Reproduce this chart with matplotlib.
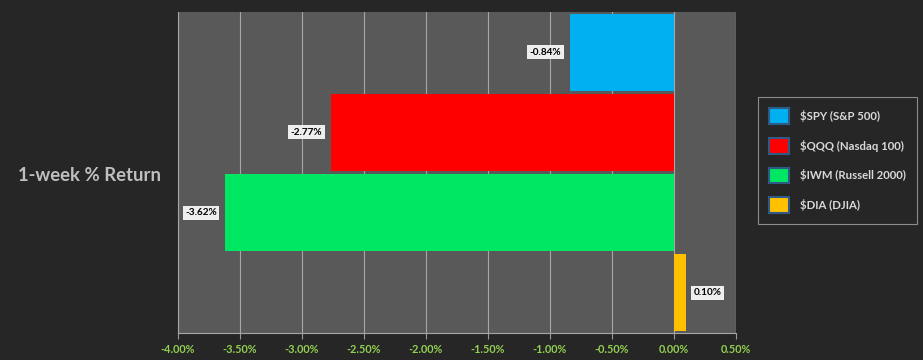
import numpy as np
import matplotlib
matplotlib.use("Agg")
import matplotlib.pyplot as plt
from matplotlib.patches import Patch
from matplotlib.ticker import FuncFormatter

# data
series = ["$SPY (S&P 500)", "$QQQ (Nasdaq 100)", "$IWM (Russell 2000)", "$DIA (DJIA)"]
returns = [-0.84, -2.77, -3.62, 0.10]
colors = ["#00b0f0", "#ff0000", "#00e863", "#ffc000"]
xticks = [-4.0, -3.5, -3.0, -2.5, -2.0, -1.5, -1.0, -0.5, 0.0, 0.5]

plt.rcParams['font.family'] = ['Lato', 'DejaVu Sans']

fig = plt.figure(figsize=(9.23, 3.6), dpi=100)
fig.patch.set_facecolor("#262626")
ax = fig.add_axes([178 / 923, 1 - 333 / 360, (736 - 178) / 923, (333 - 12) / 360])
ax.set_facecolor("#595959")

ypos = np.arange(len(series))[::-1]
bars = ax.barh(ypos, returns, height=0.96, color=colors, zorder=2)

ax.set_xlim(-4.0, 0.5)
ax.set_ylim(-0.5, 3.5)
ax.set_xticks(xticks)
ax.xaxis.set_major_formatter(FuncFormatter(lambda v, p: "%.2f%%" % v))
ax.set_yticks([])
ax.tick_params(axis="x", colors="#9a9a9a", labelcolor="#92d050", labelsize=7.8,
               length=4, width=0.8, pad=4)
for lbl in ax.get_xticklabels():
    lbl.set_fontweight("bold")
ax.grid(axis="x", color="#a6a6a6", linewidth=0.8, zorder=1)

for side in ["top", "right"]:
    ax.spines[side].set_visible(False)
for side in ["left", "bottom"]:
    ax.spines[side].set_color("#a6a6a6")
    ax.spines[side].set_linewidth(0.8)

# data labels
for b, v in zip(bars, returns):
    y = b.get_y() + b.get_height() / 2
    if v < 0:
        ax.annotate("%.2f%%" % v, (v, y), xytext=(-6, 0), textcoords="offset points",
                    ha="right", va="center", fontsize=7.2, fontweight="bold", color="black",
                    bbox=dict(boxstyle="square,pad=0.25", fc="#eeeeee", ec="none"), zorder=3)
    else:
        ax.annotate("%.2f%%" % v, (v, y), xytext=(5, 0), textcoords="offset points",
                    ha="left", va="center", fontsize=7.2, fontweight="bold", color="black",
                    bbox=dict(boxstyle="square,pad=0.25", fc="#eeeeee", ec="none"), zorder=3)

fig.text(18 / 923, 1 - 175 / 360, "1-week % Return", ha="left", va="center",
         fontsize=13.3, fontweight="bold", color="#bfbfbf")

handles = [Patch(facecolor=c, edgecolor="#2e5a85", linewidth=1.5) for c in colors]
leg = fig.legend(handles, series, loc="upper left",
                 bbox_to_anchor=(758 / 923, 1 - 97 / 360), frameon=True,
                 fontsize=8.2, handlelength=1.75, handleheight=1.75,
                 labelspacing=1.22, handletextpad=0.9, borderpad=1.0,
                 borderaxespad=0)
leg.get_frame().set_facecolor("#262626")
leg.get_frame().set_edgecolor("#a6a6a6")
leg.get_frame().set_linewidth(0.8)
leg.get_frame().set_boxstyle("square", pad=0)
for t in leg.get_texts():
    t.set_color("#d9d9d9")
    t.set_fontweight("bold")

fig.savefig("out.png", dpi=100, facecolor=fig.get_facecolor())
